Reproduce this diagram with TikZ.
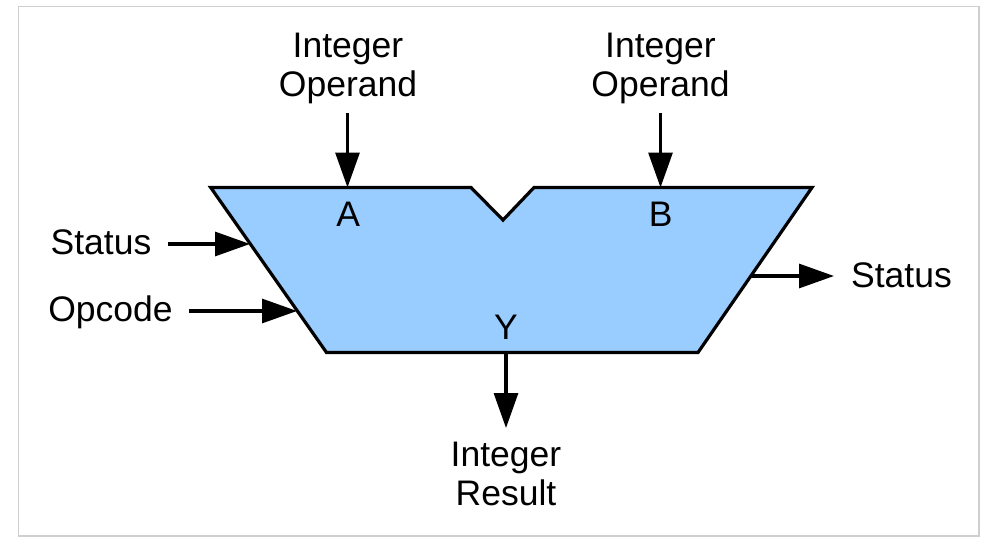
\documentclass[tikz,border=0pt]{standalone}
\usepackage{fontspec}
\setmainfont{Liberation Sans}
\usetikzlibrary{arrows.meta}
\definecolor{alublue}{HTML}{99CCFF}
\definecolor{framegray}{HTML}{CFCFCF}
\begin{document}
\begin{tikzpicture}[x=1pt,y=-1pt,
  lbl/.style={font=\fontsize{35.5}{38.7}\selectfont, inner sep=0pt, align=center, anchor=base},
  arr/.style={line width=3.1pt, -{Triangle[length=35pt,width=24pt]}},
  alu/.style={fill=alublue, draw=black, line width=3.2pt, line join=miter}]
\useasboundingbox (0,0) rectangle (987,549);
\draw[framegray, line width=1.5pt] (18.5,6.5) rectangle (979,536);
% ALU body
\draw[alu] (210.7,187.5) -- (471,187.5) -- (503,220) -- (534,187.5) -- (812,187.5)
  -- (698,352.5) -- (326.5,352.5) -- cycle;
% ports on the body
\coordinate (pA) at (347.5,187.5);
\coordinate (pB) at (660.5,187.5);
\coordinate (pY) at (506,352.5);
\coordinate (pSin) at (250,244);
\coordinate (pOp) at (297,311);
\coordinate (pSout) at (751,276);
% free ends
\coordinate (sA) at (347.5,113);
\coordinate (sB) at (660.5,113);
\coordinate (eY) at (506,428);
\coordinate (sSin) at (168,244);
\coordinate (sOp) at (189,311);
\coordinate (eSout) at (834,276);
% labels (base anchor = baseline of the last line)
\node[lbl] (opA) at (348,96.5) {Integer\\Operand};
\node[lbl] (opB) at (660.5,96.5) {Integer\\Operand};
\node[lbl] (res) at (506,505.5) {Integer\\Result};
\node[lbl] (A) at (348.3,226.5) {A};
\node[lbl] (B) at (660.7,226.5) {B};
\node[lbl] (Y) at (506,339.5) {Y};
\node[lbl] (stin) at (101,254.5) {Status};
\node[lbl] (opc) at (110.5,321) {Opcode};
\node[lbl] (stout) at (901.5,287) {Status};
% connectors
\draw[arr] (sA) -- (pA);
\draw[arr] (sB) -- (pB);
\draw[arr] (pY) -- (eY);
\draw[arr] (sSin) -- (pSin);
\draw[arr] (sOp) -- (pOp);
\draw[arr] (pSout) -- (eSout);
\end{tikzpicture}
\end{document}
